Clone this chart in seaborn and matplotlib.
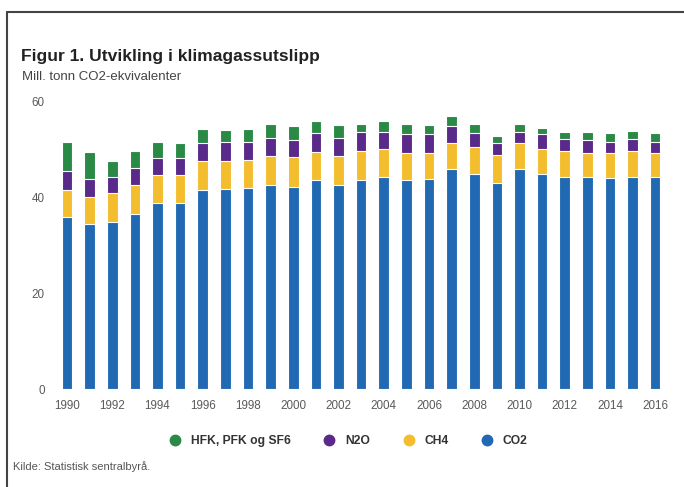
import matplotlib
matplotlib.use('Agg')
import matplotlib.pyplot as plt
from matplotlib.lines import Line2D
import seaborn as sns
import pandas as pd

# data (Mill. tonn CO2-ekvivalenter)
years = list(range(1990, 2017))
co2 = [35.9, 34.3, 34.7, 36.5, 38.7, 38.7, 41.5, 41.6, 41.9, 42.6, 42.1, 43.5, 42.6, 43.5,
       44.2, 43.5, 43.75, 45.8, 44.8, 43.0, 45.8, 44.8, 44.2, 44.2, 43.9, 44.2, 44.1]
ch4 = [5.6, 5.6, 6.1, 6.1, 5.9, 5.8, 6.0, 5.9, 5.8, 6.0, 6.2, 5.9, 6.0, 6.1,
       5.7, 5.6, 5.35, 5.5, 5.7, 5.75, 5.4, 5.3, 5.4, 5.0, 5.2, 5.4, 5.0]
n2o = [4.0, 3.85, 3.4, 3.4, 3.6, 3.7, 3.8, 4.0, 3.8, 3.6, 3.6, 3.9, 3.6, 3.9,
       3.7, 3.95, 3.95, 3.5, 2.8, 2.45, 2.4, 2.95, 2.5, 2.7, 2.4, 2.4, 2.4]
fgas = [6.0, 5.55, 3.3, 3.6, 3.3, 3.1, 2.9, 2.5, 2.7, 3.0, 2.9, 2.5, 2.7, 1.8,
        2.3, 2.15, 1.85, 2.1, 1.9, 1.5, 1.6, 1.25, 1.5, 1.7, 1.8, 1.75, 1.8]

gases = ['HFK, PFK og SF6', 'N2O', 'CH4', 'CO2']
colors = {'HFK, PFK og SF6': '#2a8a45', 'N2O': '#5a2a8a', 'CH4': '#f3bd2e', 'CO2': '#2169b3'}

df = pd.DataFrame({'year': [str(y) for y in years], 'CO2': co2, 'CH4': ch4,
                   'N2O': n2o, 'HFK, PFK og SF6': fgas})
# cumulative tops for stacking
df['top_CO2'] = df['CO2']
df['top_CH4'] = df['top_CO2'] + df['CH4']
df['top_N2O'] = df['top_CH4'] + df['N2O']
df['top_HFK, PFK og SF6'] = df['top_N2O'] + df['HFK, PFK og SF6']

sns.set_style('white')
plt.rcParams['font.family'] = ['Liberation Sans', 'DejaVu Sans']

fig = plt.figure(figsize=(6.84, 4.87), dpi=100)
ax = fig.add_axes([0.0814, 0.2012, 0.893, 0.5914])

for g in gases:
    sns.barplot(data=df, x='year', y='top_' + g, color=colors[g], width=0.47,
                edgecolor='white', linewidth=0.8, saturation=1, ax=ax)

ax.set_xlim(-0.5, len(years) - 0.5)
ax.set_ylim(0, 60)
ax.set_yticks([0, 20, 40, 60])
ax.set_xticks(range(0, len(years), 2))
ax.set_xticklabels([str(y) for y in years[::2]])
ax.set_xlabel('')
ax.set_ylabel('')
ax.tick_params(axis='both', length=0, labelsize=8.4, labelcolor='#5a5a5a', pad=8)
sns.despine(ax=ax, left=True, bottom=True)

# frame lines at top and left
fig.add_artist(Line2D([0.0102, 0.0102], [0, 0.975], color='#444444', lw=1.5))
fig.add_artist(Line2D([0.0102, 1.0], [0.975, 0.975], color='#444444', lw=1.5))

fig.text(0.031, 0.883, 'Figur 1. Utvikling i klimagassutslipp', fontsize=12.6,
         fontweight='bold', color='#222222', va='center')
fig.text(0.032, 0.842, 'Mill. tonn CO2-ekvivalenter', fontsize=9.5,
         color='#444444', va='center')

handles = [Line2D([], [], marker='o', linestyle='', markersize=7.5,
                  markerfacecolor=colors[g], markeredgecolor=colors[g]) for g in gases]
fig.legend(handles, gases, loc='center', bbox_to_anchor=(0.505, 0.094), ncol=4,
           frameon=False, prop={'weight': 'bold', 'size': 8.7}, handletextpad=0.3,
           columnspacing=2.2, labelcolor='#333333')

fig.text(0.019, 0.041, 'Kilde: Statistisk sentralbyrå.', fontsize=8,
         color='#555555', va='center')

fig.savefig('out.png', dpi=100)
